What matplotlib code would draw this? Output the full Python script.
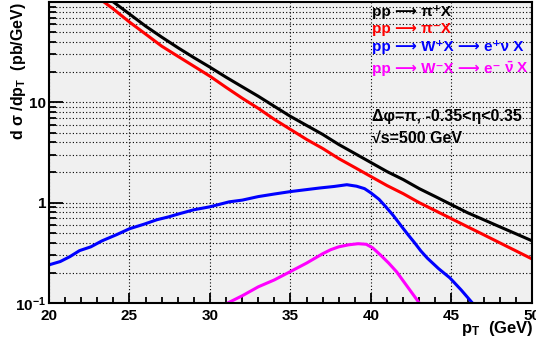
import numpy as np
import matplotlib
matplotlib.use("Agg")
import matplotlib.pyplot as plt
from matplotlib.ticker import FixedLocator, LogLocator, FuncFormatter, MultipleLocator

# pT grid for the pion curves (GeV)
pt_pi = [20, 21, 22, 23, 24, 25, 26, 27, 28, 29, 30, 31, 32, 33, 34, 35,
         36, 37, 38, 39, 40, 41, 42, 43, 44, 45, 46, 47, 48, 49, 50]
pi_plus = [302, 229, 174, 132, 100, 75.9, 57.5, 44.7, 35.1, 27.9, 22.4, 17.8,
           14.3, 11.5, 9.12, 7.24, 5.89, 4.79, 3.80, 3.09, 2.51, 2.04, 1.70,
           1.38, 1.15, 0.955, 0.794, 0.676, 0.575, 0.490, 0.417]
pi_minus = [282, 209, 155, 112, 85.1, 63.1, 47.9, 36.3, 28.8, 22.9, 18.2, 14.1,
            11.0, 8.71, 6.76, 5.37, 4.27, 3.47, 2.75, 2.24, 1.82, 1.48, 1.23,
            1.00, 0.832, 0.692, 0.575, 0.479, 0.398, 0.331, 0.275]

# W+ -> e+ nu
pt_wp = [20.0, 20.7, 21.3, 21.9, 22.6, 23.3, 24.2, 25.0, 25.9, 26.7, 27.4, 28.1,
         29.0, 30.0, 31.2, 32.0, 33.0, 34.0, 35.0, 36.0, 36.8, 37.7, 38.5, 39.1,
         39.6, 40.0, 40.5, 40.9, 41.4, 41.9, 42.3, 42.7, 43.1, 43.5, 44.2, 44.9,
         45.6, 46.3, 46.6]
w_plus = [0.24, 0.259, 0.29, 0.333, 0.363, 0.417, 0.48, 0.55, 0.61, 0.676, 0.72,
          0.776, 0.85, 0.91, 1.02, 1.06, 1.15, 1.22, 1.29, 1.35, 1.40, 1.45, 1.51,
          1.46, 1.38, 1.25, 1.08, 0.918, 0.74, 0.58, 0.48, 0.40, 0.33, 0.28, 0.22,
          0.178, 0.135, 0.10, 0.09]

# W- -> e- nubar
pt_wm = [31.0, 31.1, 32.0, 33.0, 34.0, 35.0, 36.0, 37.0, 37.5, 38.0, 38.6, 39.2,
         39.7, 40.1, 40.6, 41.1, 41.6, 42.1, 42.5, 43.0, 43.2]
w_minus = [0.098, 0.10, 0.118, 0.145, 0.17, 0.206, 0.25, 0.31, 0.34, 0.363, 0.38,
           0.39, 0.385, 0.355, 0.30, 0.25, 0.204, 0.158, 0.129, 0.10, 0.09]

labels = ['pp ⟶ π⁺X',
          'pp ⟶ π⁻X',
          'pp ⟶ W⁺X ⟶ e⁺ν X',
          'pp ⟶ W⁻X ⟶ e⁻ ']
label_tail = '$\\bar{ν}$ X'   # rest of the W- line, needs mathtext for the bar
colors = ['black', '#ff0000', '#0000ff', '#ff00ff']


def main():
    plt.rcParams['font.family'] = ['Liberation Sans', 'DejaVu Sans']
    plt.rcParams['font.weight'] = 'bold'
    plt.rcParams['mathtext.fontset'] = 'custom'
    plt.rcParams['mathtext.rm'] = 'Liberation Sans:bold'
    plt.rcParams['mathtext.it'] = 'Liberation Sans:bold'
    plt.rcParams['mathtext.bf'] = 'Liberation Sans:bold'

    fig = plt.figure(figsize=(5.36, 3.45), dpi=100)
    ax = fig.add_axes([0.0914, 0.1217, 0.9011, 0.8725])
    ax.set_facecolor('#f0f0f0')

    series = [(pt_pi, pi_plus), (pt_pi, pi_minus), (pt_wp, w_plus), (pt_wm, w_minus)]
    for (x, y), c in zip(series, colors):
        ax.plot(x, y, color=c, lw=2.2, solid_capstyle='butt')

    ax.set_yscale('log')
    ax.set_xlim(20, 50)
    ax.set_ylim(0.1, 100)

    ax.xaxis.set_major_locator(MultipleLocator(5))
    ax.xaxis.set_minor_locator(MultipleLocator(1))
    ax.yaxis.set_major_locator(FixedLocator([0.1, 1, 10]))
    ax.yaxis.set_minor_locator(LogLocator(base=10, subs=np.arange(2, 10)))

    def yfmt(v, pos):
        if abs(v - 0.1) < 1e-6:
            return '10$^{-1}$'
        return '%g' % v
    ax.yaxis.set_major_formatter(FuncFormatter(yfmt))
    ax.yaxis.set_minor_formatter(FuncFormatter(lambda v, p: ''))

    ax.grid(True, which='major', axis='x', color='black', ls=(0, (1, 2)), lw=0.8)
    ax.grid(True, which='both', axis='y', color='black', ls=(0, (1, 2)), lw=0.8)

    ax.tick_params(which='both', direction='in', top=False, right=False,
                   labelsize=11, width=1.3, pad=3)
    ax.tick_params(axis='y', which='major', length=10, pad=2)
    ax.tick_params(axis='y', which='minor', length=5)
    ax.tick_params(axis='x', which='major', length=7, pad=4)
    ax.tick_params(axis='x', which='minor', length=4)
    for lab in ax.get_xticklabels() + ax.get_yticklabels():
        lab.set_fontweight('bold')
    for s in ax.spines.values():
        s.set_linewidth(1.5)

    ys = [0.955, 0.897, 0.837, 0.764]
    texts = []
    for lab, c, yy in zip(labels, colors, ys):
        t = ax.text(0.668, yy, lab, color=c, fontsize=11, fontweight='bold',
                    transform=ax.transAxes, ha='left', va='baseline')
        texts.append(t)

    # put the nu-bar part right after the last label
    fig.canvas.draw()
    bb = texts[-1].get_window_extent()
    x_end = ax.transAxes.inverted().transform((bb.x1, bb.y0))[0]
    ax.text(x_end, ys[-1], label_tail, color=colors[-1], fontsize=11,
            fontweight='bold', transform=ax.transAxes, ha='left', va='baseline')

    ax.text(0.668, 0.621, 'Δφ=π, -0.35<η<0.35', fontsize=11.5, fontweight='bold',
            transform=ax.transAxes, ha='left', va='center')
    ax.text(0.668, 0.548, '√s=500 GeV', fontsize=11.5, fontweight='bold',
            transform=ax.transAxes, ha='left', va='center')

    fig.text(0.995, 0.035, 'p$_{T}$  (GeV)', fontsize=12, fontweight='bold',
             ha='right', va='baseline')
    fig.text(0.035, 0.995, 'd σ /dp$_{T}$  (pb/GeV)', fontsize=11.5,
             fontweight='bold', rotation=90, ha='center', va='top')

    fig.savefig('out.png', dpi=100)


if __name__ == "__main__":
    main()
